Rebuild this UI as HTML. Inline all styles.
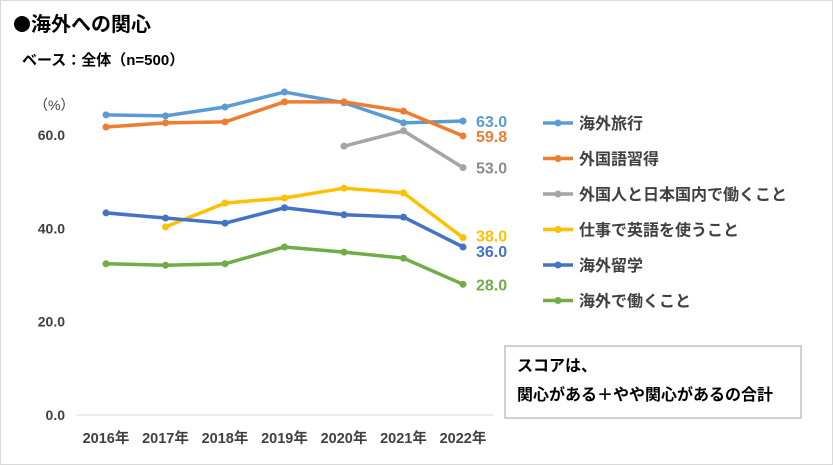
<!DOCTYPE html>
<html><head><meta charset="utf-8"><style>
body{margin:0;background:#fff}
svg{display:block;font-family:"Liberation Sans","Noto Sans CJK JP",sans-serif}
</style></head><body>
<svg width="833" height="465" viewBox="0 0 833 465">
<rect x="0.5" y="0.5" width="832" height="464" fill="#fff" stroke="#d9d9d9"/>
<circle cx="22" cy="24" r="8" fill="#000"/>
<text x="31" y="31" font-size="20" font-weight="bold" fill="#000">海外への関心</text>
<text x="22" y="65" font-size="15" font-weight="bold" fill="#000">ベース：全体（n=500）</text>
<text x="34" y="110" font-size="14" fill="#404040">（%）</text>
<g id="yaxis"></g>
<g id="xaxis"></g>
<g id="series"></g>
<g id="legend"></g>
<rect x="505" y="346" width="296" height="72" fill="#fff" stroke="#d0d0d0" stroke-width="2"/>
<text x="517" y="371" font-size="16" font-weight="bold" fill="#000">スコアは、</text>
<text x="517" y="400" font-size="16" font-weight="bold" fill="#000">関心がある＋やや関心があるの合計</text>
</svg>
<script>
const categories=["2016年","2017年","2018年","2019年","2020年","2021年","2022年"];
const yTicks=[0,20,40,60];
const yTickLabels=["0.0","20.0","40.0","60.0"];
const seriesNames=["海外旅行","外国語習得","外国人と日本国内で働くこと","仕事で英語を使うこと","海外留学","海外で働くこと"];
const travel=[64.3,64.1,66.0,69.2,66.9,62.6,63.0];
const language=[61.7,62.6,62.8,67.1,67.1,65.1,59.8];
const foreignersJapan=[null,null,null,null,57.6,60.9,53.0];
const englishWork=[null,40.3,45.4,46.5,48.6,47.6,38.0];
const study=[43.3,42.2,41.1,44.4,42.9,42.4,36.0];
const workAbroad=[32.4,32.1,32.4,36.0,34.9,33.6,28.0];
const endLabels=["63.0","59.8","53.0","38.0","36.0","28.0"];

const colors=["#5B9BD5","#ED7D31","#A5A5A5","#FFC000","#4472C4","#70AD47"];
const allSeries=[travel,language,foreignersJapan,englishWork,study,workAbroad];
const keys=["travel","language","foreigners-japan","english-work","study-abroad","work-abroad"];
const NS="http://www.w3.org/2000/svg";
const x=i=>106+i*59.5;
const y=v=>415-v*4.667;
function mk(tag,attrs,parent,text){const e=document.createElementNS(NS,tag);for(const k in attrs)e.setAttribute(k,attrs[k]);if(text!=null)e.textContent=text;parent.appendChild(e);return e;}
const ya=document.getElementById('yaxis');
yTicks.forEach((t,i)=>{
 const e=mk('text',{x:65,y:y(t)+5,'font-size':14,'font-weight':'bold','text-anchor':'end',fill:'#404040'},ya,yTickLabels[i]);
 
 
});
const xa=document.getElementById('xaxis');
const ax=mk('line',{x1:76,x2:493,y1:415,y2:415,stroke:'#d9d9d9'},xa);


categories.forEach((c,i)=>{
 const e=mk('text',{x:x(i),y:443,'font-size':14.5,'font-weight':'bold','text-anchor':'middle',fill:'#404040'},xa,c);
 
 
});
const sg=document.getElementById('series');
allSeries.forEach((s,k)=>{
 const g=mk('g',{},sg);
 
 
 let pts=[];s.forEach((v,i)=>{if(v!=null)pts.push([x(i),y(v)]);});
 const l=mk('polyline',{points:pts.map(p=>p.join(',')).join(' '),fill:'none',stroke:colors[k],'stroke-width':3.5,'stroke-linejoin':'round'},g);
 
 
 pts.forEach(p=>{
  const c=mk('circle',{cx:p[0],cy:p[1],r:3.5,fill:colors[k]},g);
  
  
 });
 const last=s[s.length-1];
 let ly=y(last)+6; if(k===3)ly-=2; if(k===4)ly+=4;
 const t=mk('text',{x:476,y:ly,'font-size':16,'font-weight':'bold',fill:k===2?'#8c8c8c':colors[k]},g,endLabels[k]);
 
 
});
const lg=document.getElementById('legend');
seriesNames.forEach((n,k)=>{
 const ly=123+k*35.5;
 const g=mk('g',{},lg);
 
 
 mk('line',{x1:543,x2:573,y1:ly,y2:ly,stroke:colors[k],'stroke-width':3.5},g);
 mk('circle',{cx:558,cy:ly,r:3.5,fill:colors[k]},g);
 mk('text',{x:579,y:ly+6,'font-size':16,'font-weight':'bold',fill:'#404040'},g,n);
});
</script>
</body></html>
